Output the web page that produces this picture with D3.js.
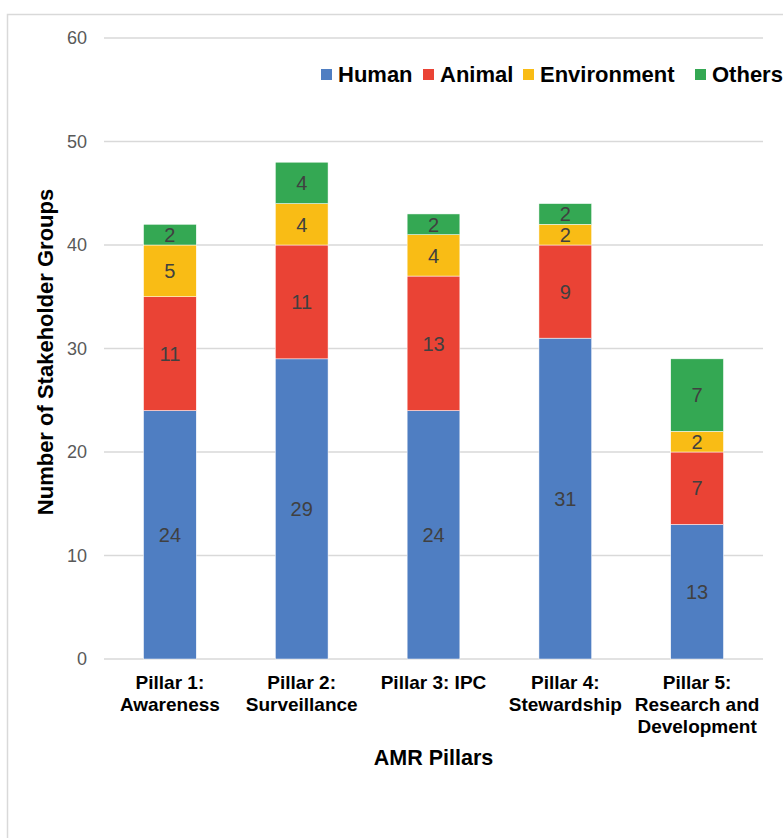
<!DOCTYPE html>
<html lang="en">
<head>
    <meta charset="UTF-8">
    <title>AMR Pillars Stakeholder Groups</title>
    <script src="https://d3js.org/d3.v7.min.js"></script>
    <style>
        body { margin: 0; background: #fff; }
        svg { display: block; font-family: "Liberation Sans", Arial, sans-serif; }
    </style>
</head>
<body>
<svg id="chart"></svg>
<script>
    const pillars = [
        ["Pillar 1:", "Awareness"],
        ["Pillar 2:", "Surveillance"],
        ["Pillar 3: IPC"],
        ["Pillar 4:", "Stewardship"],
        ["Pillar 5:", "Research and", "Development"]
    ];
    const seriesNames = ["Human", "Animal", "Environment", "Others"];
    const human = [24, 29, 24, 31, 13];
    const animal = [11, 11, 13, 9, 7];
    const environment = [5, 4, 4, 2, 2];
    const others = [2, 4, 2, 2, 7];
    const yTicks = [0, 10, 20, 30, 40, 50, 60];
    const colors = ["#4F7EC2", "#EA4335", "#F9BC15", "#34A853"];

    const width = 783, height = 838;
    const plot = {left: 104, right: 763, top: 38, bottom: 659};

    const svg = d3.select("#chart").attr("width", width).attr("height", height);

    // outer frame
    svg.append("rect")
        .attr("x", 7.5).attr("y", 14.5)
        .attr("width", 800).attr("height", 900)
        .attr("fill", "none").attr("stroke", "#d9d9d9").attr("stroke-width", 1.5);

    const table = pillars.map(function(p, i) {
        return {key: i, Human: human[i], Animal: animal[i], Environment: environment[i], Others: others[i]};
    });

    const x = d3.scaleBand().domain(d3.range(pillars.length)).range([plot.left, plot.right])
        .paddingInner(0.6).paddingOuter(0.3);
    const y = d3.scaleLinear().domain([0, 60]).range([plot.bottom, plot.top]);

    // grid lines
    svg.append("g").selectAll("line").data(yTicks).enter().append("line")
        .attr("x1", plot.left).attr("x2", plot.right)
        .attr("y1", function(d) { return y(d); })
        .attr("y2", function(d) { return y(d); })
        .attr("stroke", "#d9d9d9").attr("stroke-width", 1.5);

    // y axis labels
    const yAxis = svg.append("g").attr("transform", "translate(" + plot.left + ",0)")
        .call(d3.axisLeft(y).tickValues(yTicks).tickSize(0).tickPadding(17));
    yAxis.select(".domain").remove();
    yAxis.selectAll("text").attr("font-size", 18).attr("fill", "#595959")
        .attr("font-family", "Liberation Sans, Arial, sans-serif");

    const stacked = d3.stack().keys(seriesNames)(table);

    const groups = svg.append("g").selectAll("g").data(stacked).enter().append("g")
        .attr("fill", function(d, i) { return colors[i]; });

    groups.selectAll("rect").data(function(d) { return d; }).enter().append("rect")
        .attr("x", function(d) { return x(d.data.key); })
        .attr("y", function(d) { return y(d[1]); })
        .attr("width", x.bandwidth())
        .attr("height", function(d) { return y(d[0]) - y(d[1]); })
        .attr("stroke", "#fff").attr("stroke-width", 0.5);

    groups.selectAll("text").data(function(d) { return d; }).enter().append("text")
        .attr("x", function(d) { return x(d.data.key) + x.bandwidth() / 2; })
        .attr("y", function(d) { return (y(d[0]) + y(d[1])) / 2; })
        .attr("dy", "0.36em")
        .attr("text-anchor", "middle")
        .attr("font-size", 20)
        .attr("fill", "#404040")
        .text(function(d) { return d[1] - d[0]; });

    // x axis category labels
    const xLabels = svg.append("g").selectAll("text").data(pillars).enter().append("text")
        .attr("x", function(d, i) { return x(i) + x.bandwidth() / 2; })
        .attr("y", 689)
        .attr("text-anchor", "middle")
        .attr("font-size", 19).attr("font-weight", "bold").attr("fill", "#000");
    xLabels.selectAll("tspan").data(function(d) { return d; }).enter().append("tspan")
        .attr("x", function() { return this.parentNode.getAttribute("x"); })
        .attr("dy", function(d, i) { return i === 0 ? 0 : 22; })
        .text(function(d) { return d; });

    // axis titles
    svg.append("text")
        .attr("x", (plot.left + plot.right) / 2).attr("y", 765)
        .attr("text-anchor", "middle")
        .attr("font-size", 21.5).attr("font-weight", "bold")
        .text("AMR Pillars");

    svg.append("text")
        .attr("transform", "translate(53,352) rotate(-90)")
        .attr("text-anchor", "middle")
        .attr("font-size", 22).attr("font-weight", "bold")
        .text("Number of Stakeholder Groups");

    // legend
    const legendX = [321, 423, 523, 695];
    const legend = svg.append("g").selectAll("g").data(seriesNames).enter().append("g")
        .attr("transform", function(d, i) { return "translate(" + legendX[i] + ",74.5)"; });
    legend.append("rect")
        .attr("x", 0).attr("y", -5.5).attr("width", 11).attr("height", 11)
        .attr("fill", function(d, i) { return colors[i]; });
    legend.append("text")
        .attr("x", 17).attr("y", 7)
        .attr("font-size", 22).attr("font-weight", "bold")
        .text(function(d) { return d; });
</script>
</body>
</html>
